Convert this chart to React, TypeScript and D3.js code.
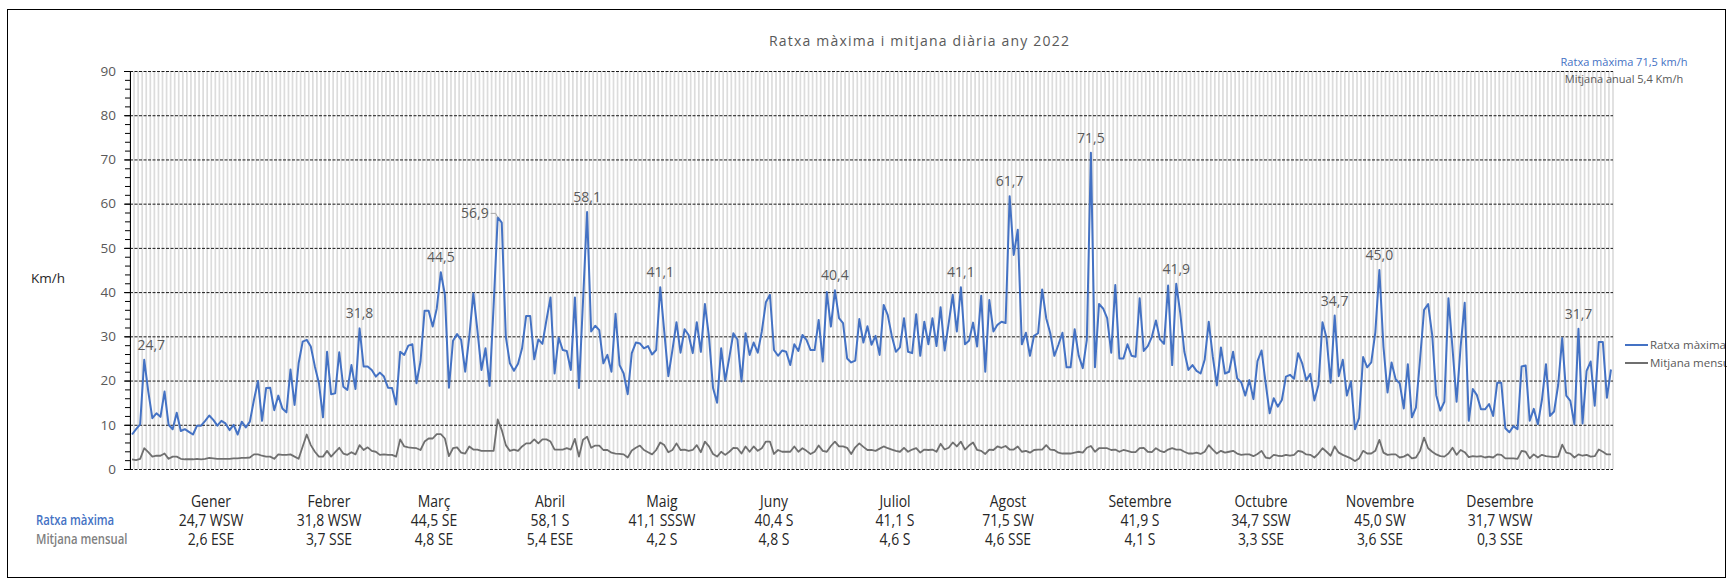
import React, { useEffect, useRef } from 'react'
import * as d3 from 'd3'

// ratxa màxima diària (km/h), un array per mes
const ratxaGener = [7.8, 9.0, 10.1, 24.7, 17.5, 11.5, 12.6, 11.8, 17.5, 10.0, 9.0, 12.7, 8.6, 9.0, 8.4, 7.8, 9.8, 9.8, 10.9, 12.1, 11.1, 9.8, 10.9, 10.3, 8.8, 10.0, 7.8, 10.7, 9.4, 10.7, 15.6]
const ratxaFebrer = [19.9, 10.9, 18.3, 18.4, 13.3, 16.6, 13.7, 12.8, 22.5, 14.5, 23.9, 28.8, 29.2, 27.7, 23.2, 19.4, 11.7, 26.5, 16.9, 17.1, 26.4, 18.6, 17.9, 23.5, 18.1, 31.8, 23.2, 23.2]
const ratxaMarc = [22.4, 20.9, 21.8, 20.9, 18.4, 18.3, 14.6, 26.5, 25.8, 27.9, 28.2, 19.4, 24.3, 35.8, 35.8, 32.2, 36.3, 44.5, 39.4, 18.4, 29.0, 30.5, 29.2, 22.0, 29.9, 39.7, 31.4, 22.4, 27.3, 18.8, 37.0]
const ratxaAbril = [56.9, 55.7, 29.9, 23.9, 22.2, 23.8, 27.3, 34.6, 34.6, 24.8, 29.3, 28.3, 33.7, 38.8, 21.6, 29.7, 26.9, 26.7, 22.4, 38.8, 18.3, 38.0, 58.1, 31.1, 32.4, 31.4, 23.9, 25.8, 22.0, 35.1]
const ratxaMaig = [23.5, 21.6, 16.9, 26.2, 28.6, 28.4, 27.3, 27.8, 25.9, 26.9, 41.1, 31.0, 21.0, 26.9, 33.2, 26.3, 31.6, 30.3, 26.2, 33.2, 26.5, 37.3, 29.9, 18.3, 15.0, 27.3, 20.0, 25.2, 30.7, 29.3, 19.8]
const ratxaJuny = [30.7, 25.8, 28.6, 26.3, 31.1, 37.7, 39.4, 26.9, 25.6, 26.8, 26.5, 23.5, 28.2, 26.7, 30.3, 29.2, 26.9, 26.9, 33.7, 24.3, 40.0, 32.2, 40.4, 34.1, 33.0, 25.0, 24.1, 24.5, 33.9, 28.6]
const ratxaJuliol = [32.3, 28.1, 30.1, 25.8, 37.1, 34.8, 30.1, 26.5, 27.5, 34.1, 26.5, 26.2, 35.0, 25.6, 33.3, 28.2, 34.1, 27.8, 36.6, 26.8, 33.0, 39.4, 31.1, 41.1, 28.2, 29.0, 33.1, 27.7, 39.2, 22.0, 38.2]
const ratxaAgost = [31.1, 32.6, 33.3, 33.0, 61.7, 48.4, 54.1, 28.2, 30.8, 25.6, 30.1, 30.7, 40.6, 34.1, 30.7, 25.6, 28.1, 30.8, 23.0, 23.0, 31.6, 25.6, 22.8, 29.2, 71.5, 23.0, 37.3, 36.3, 34.1, 26.3, 41.6]
const ratxaSetembre = [25.0, 25.0, 28.2, 25.6, 25.4, 38.6, 26.7, 27.8, 29.9, 33.6, 29.3, 28.3, 41.5, 23.5, 41.9, 35.2, 26.5, 22.4, 23.5, 22.2, 21.6, 24.7, 33.3, 25.4, 18.9, 27.5, 21.6, 22.0, 26.5, 20.5]
const ratxaOctubre = [19.6, 16.6, 20.1, 15.8, 24.4, 26.8, 19.5, 12.6, 16.0, 14.1, 15.6, 20.9, 21.3, 20.4, 26.2, 23.9, 20.1, 21.5, 15.5, 19.0, 33.2, 29.6, 19.5, 34.7, 21.0, 24.7, 16.6, 19.8, 9.0, 11.5, 25.3]
const ratxaNovembre = [23.0, 24.1, 30.9, 45.0, 27.7, 17.3, 24.1, 20.3, 19.4, 13.7, 23.7, 11.7, 13.9, 24.7, 36.0, 37.3, 30.3, 16.7, 13.2, 15.2, 38.6, 27.3, 15.2, 27.7, 37.6, 10.9, 18.1, 16.7, 13.5, 13.5]
const ratxaDesembre = [14.7, 12.0, 19.5, 19.5, 9.2, 8.3, 9.7, 9.0, 23.2, 23.4, 10.9, 13.6, 10.1, 15.6, 23.7, 12.0, 13.0, 19.0, 29.6, 16.6, 15.4, 10.1, 31.7, 10.3, 22.2, 24.3, 14.3, 28.7, 28.7, 16.1, 22.5]

// mitjana diària (km/h)
const mitjanaGener = [2.2, 2.0, 2.3, 4.7, 3.8, 2.8, 3.0, 3.0, 3.5, 2.3, 2.8, 2.8, 2.3, 2.2, 2.2, 2.2, 2.3, 2.2, 2.3, 2.5, 2.4, 2.3, 2.3, 2.3, 2.3, 2.4, 2.4, 2.5, 2.5, 2.6, 3.3]
const mitjanaFebrer = [3.3, 3.0, 2.8, 2.8, 2.3, 3.3, 3.2, 3.2, 3.3, 2.8, 2.3, 5.1, 7.8, 5.4, 3.9, 2.8, 2.8, 4.1, 2.8, 3.8, 4.8, 3.5, 3.2, 3.8, 3.3, 5.4, 4.3, 4.9]
const mitjanaMarc = [4.1, 3.9, 3.2, 3.3, 3.2, 3.2, 2.8, 6.7, 5.1, 4.9, 4.8, 4.7, 4.3, 6.2, 6.9, 6.9, 7.9, 7.9, 6.9, 2.9, 4.7, 4.9, 3.7, 3.5, 5.1, 4.4, 4.4, 4.1, 4.1, 4.1, 4.1]
const mitjanaAbril = [11.2, 8.8, 5.4, 4.1, 4.4, 4.1, 5.1, 5.8, 5.8, 6.7, 5.8, 6.7, 6.7, 6.2, 4.4, 4.4, 4.4, 4.7, 4.4, 6.8, 2.8, 6.6, 7.3, 4.8, 5.3, 5.3, 4.3, 4.3, 3.7, 3.5]
const mitjanaMaig = [3.4, 3.3, 2.6, 4.2, 4.8, 5.3, 4.3, 3.8, 3.3, 4.3, 6.0, 5.4, 3.8, 4.3, 5.8, 4.3, 4.4, 4.1, 4.3, 5.4, 3.8, 6.2, 5.1, 3.4, 2.8, 3.9, 3.2, 3.9, 4.8, 4.7, 3.5]
const mitjanaJuny = [5.1, 3.9, 5.1, 4.1, 4.7, 6.2, 6.2, 3.4, 4.3, 3.9, 3.9, 3.9, 5.1, 3.9, 4.7, 4.1, 3.4, 3.9, 5.3, 4.1, 3.9, 5.2, 6.2, 5.1, 5.1, 4.8, 3.4, 4.9, 5.8, 5.0]
const mitjanaJuliol = [4.3, 4.3, 4.1, 4.6, 5.1, 4.7, 4.4, 4.1, 3.9, 4.8, 3.9, 4.4, 4.7, 3.7, 4.4, 4.3, 4.4, 3.9, 5.7, 4.4, 4.8, 6.0, 5.1, 6.2, 4.4, 5.3, 6.0, 4.3, 4.1, 3.4, 4.4]
const mitjanaAgost = [4.3, 5.1, 4.8, 5.2, 4.4, 4.4, 5.1, 3.9, 4.1, 3.7, 4.3, 4.4, 4.4, 5.4, 4.4, 4.3, 3.7, 3.5, 3.5, 3.5, 3.7, 3.9, 3.7, 4.8, 5.2, 3.9, 4.7, 4.7, 4.7, 4.3, 4.4]
const mitjanaSetembre = [3.9, 4.3, 4.1, 3.8, 3.8, 4.7, 4.8, 3.9, 3.8, 4.7, 4.1, 3.8, 4.4, 4.7, 4.4, 4.4, 3.9, 3.5, 3.5, 3.7, 3.4, 3.9, 5.4, 4.4, 3.5, 4.1, 3.7, 3.9, 4.1, 3.5]
const mitjanaOctubre = [3.2, 3.3, 3.3, 2.9, 3.4, 4.1, 2.6, 2.4, 3.2, 3.0, 2.9, 3.2, 3.0, 3.2, 4.1, 3.9, 3.3, 3.2, 2.6, 3.5, 4.7, 3.9, 3.0, 5.1, 3.7, 3.2, 2.8, 2.4, 1.8, 2.4, 4.1]
const mitjanaNovembre = [3.5, 3.5, 4.1, 6.6, 3.7, 3.2, 3.3, 3.3, 2.6, 2.8, 3.3, 2.4, 2.6, 4.1, 7.1, 4.7, 3.9, 3.3, 2.9, 2.8, 3.5, 4.8, 3.2, 4.3, 3.8, 2.7, 2.9, 2.8, 2.9, 2.6]
const mitjanaDesembre = [2.8, 2.6, 3.3, 3.2, 2.4, 2.4, 2.4, 2.3, 4.1, 3.9, 2.4, 3.3, 2.6, 3.2, 2.9, 2.8, 2.7, 2.8, 5.5, 3.7, 3.5, 2.6, 3.3, 3.0, 3.2, 2.8, 2.9, 4.4, 3.9, 3.3, 3.3]

const ratxa = [ratxaGener, ratxaFebrer, ratxaMarc, ratxaAbril, ratxaMaig, ratxaJuny, ratxaJuliol, ratxaAgost, ratxaSetembre, ratxaOctubre, ratxaNovembre, ratxaDesembre].flat()
const mitjana = [mitjanaGener, mitjanaFebrer, mitjanaMarc, mitjanaAbril, mitjanaMaig, mitjanaJuny, mitjanaJuliol, mitjanaAgost, mitjanaSetembre, mitjanaOctubre, mitjanaNovembre, mitjanaDesembre].flat()

// dies amb etiqueta de valor
const diesEtiqueta = [3, 56, 76, 90, 112, 130, 173, 204, 216, 236, 257, 296, 307, 356]

const mesos = ['Gener', 'Febrer', 'Març', 'Abril', 'Maig', 'Juny', 'Juliol', 'Agost', 'Setembre', 'Octubre', 'Novembre', 'Desembre']
const ratxaMes = ['24,7 WSW', '31,8 WSW', '44,5 SE', '58,1 S', '41,1 SSSW', '40,4 S', '41,1 S', '71,5 SW', '41,9 S', '34,7 SSW', '45,0 SW', '31,7 WSW']
const mitjanaMes = ['2,6 ESE', '3,7 SSE', '4,8 SE', '5,4 ESE', '4,2 S', '4,8 S', '4,6 S', '4,6 SSE', '4,1 S', '3,3 SSE', '3,6 SSE', '0,3 SSE']

const yTicks = [0, 10, 20, 30, 40, 50, 60, 70, 80, 90]

// layout
const W = 1727
const H = 581
const plot = { left: 130, right: 1613, top: 71, bottom: 469 }
const colX = [211, 329, 434, 550, 662, 774, 895, 1008, 1140, 1261, 1380, 1500]

const BLUE = '#4472C4'
const GREY = '#6f6f6f'
const TXT = '#595959'
const FONT = "'Open Sans', 'DejaVu Sans', sans-serif"

const App = () => {
	const ref = useRef<SVGSVGElement>(null)

	useEffect(() => {
		const svg = d3.select(ref.current)
		svg.selectAll('*').remove()

		const x = d3.scalePoint<number>().domain(d3.range(ratxa.length)).range([plot.left, plot.right]).padding(0.5)
		const y = d3.scaleLinear().domain([0, 90]).range([plot.bottom, plot.top])
		const step = x.step()

		svg.append('rect').attr('width', W).attr('height', H).attr('fill', '#fff')

		// vertical day stripes
		svg.append('g')
			.selectAll('line')
			.data(d3.range(ratxa.length + 1))
			.enter()
			.append('line')
			.attr('x1', d => plot.left + d * step)
			.attr('x2', d => plot.left + d * step)
			.attr('y1', plot.top)
			.attr('y2', plot.bottom)
			.attr('stroke', '#dcdcdc')
			.attr('stroke-width', 1.7)

		// horizontal dashed gridlines
		svg.append('g')
			.selectAll('line')
			.data(yTicks)
			.enter()
			.append('line')
			.attr('x1', plot.left)
			.attr('x2', plot.right)
			.attr('y1', d => y(d) + 0.5)
			.attr('y2', d => y(d) + 0.5)
			.attr('stroke', '#1a1a1a')
			.attr('stroke-width', 1)
			.attr('stroke-dasharray', '3 1.5')

		// y axis: minor + major ticks
		const minor = svg.append('g')
			.attr('transform', `translate(${plot.left},0)`)
			.call(d3.axisLeft(y).tickValues(d3.range(0, 91, 2)).tickSize(5).tickFormat(() => ''))
		minor.select('.domain').remove()
		const axis = svg.append('g')
			.attr('transform', `translate(${plot.left},0)`)
			.call(d3.axisLeft(y).tickValues(yTicks).tickSize(6).tickSizeOuter(0).tickPadding(8).tickFormat(d3.format('d')))
		svg.selectAll('.tick line').attr('stroke', '#000')
		axis.select('.domain').attr('stroke', '#000')
		axis.selectAll('text')
			.attr('font-family', FONT)
			.attr('font-size', 13.5)
			.attr('fill', TXT)

		// lines
		const line = d3.line<number>().x((d, i) => x(i) as number).y(d => y(d))
		svg.append('path')
			.datum(mitjana)
			.attr('d', line)
			.attr('fill', 'none')
			.attr('stroke', GREY)
			.attr('stroke-width', 1.8)
			.attr('stroke-linejoin', 'round')
		svg.append('path')
			.datum(ratxa)
			.attr('d', line)
			.attr('fill', 'none')
			.attr('stroke', BLUE)
			.attr('stroke-width', 2)
			.attr('stroke-linejoin', 'round')

		// data labels
		const fmt = (v: number) => v.toFixed(1).replace('.', ',')
		diesEtiqueta.forEach(d => {
			const px = x(d) as number
			const py = y(ratxa[d])
			if (d === 90) {
				svg.append('text')
					.attr('x', px - 9)
					.attr('y', py + 1)
					.attr('text-anchor', 'end')
					.attr('font-family', FONT).attr('font-size', 14).attr('fill', TXT)
					.text(fmt(ratxa[d]))
				svg.append('path')
					.attr('d', `M${px - 7},${py - 4}H${px - 2}L${px},${py}`)
					.attr('fill', 'none').attr('stroke', '#a6a6a6').attr('stroke-width', 1)
				return
			}
			svg.append('text')
				.attr('x', d === 3 ? px + 7 : px)
				.attr('y', py - 10)
				.attr('text-anchor', 'middle')
				.attr('font-family', FONT).attr('font-size', 14).attr('fill', TXT)
				.text(fmt(ratxa[d]))
		})

		// title and summaries
		svg.append('text')
			.attr('x', 919).attr('y', 46)
			.attr('text-anchor', 'middle')
			.attr('font-family', FONT).attr('font-size', 14).attr('fill', TXT)
			.attr('textLength', 300).attr('lengthAdjust', 'spacing')
			.text('Ratxa màxima i mitjana diària any 2022')
		svg.append('text')
			.attr('x', 1624).attr('y', 66)
			.attr('text-anchor', 'middle')
			.attr('font-family', FONT).attr('font-size', 11).attr('fill', BLUE)
			.text('Ratxa màxima ' + fmt(d3.max(ratxa) as number) + ' km/h')
		svg.append('text')
			.attr('x', 1624).attr('y', 83)
			.attr('text-anchor', 'middle')
			.attr('font-family', FONT).attr('font-size', 11).attr('fill', TXT)
			.text('Mitjana anual 5,4 Km/h')

		svg.append('text')
			.attr('x', 31).attr('y', 283)
			.attr('font-family', FONT).attr('font-size', 13.5).attr('fill', '#262626')
			.text('Km/h')

		// legend
		const legend = [{ name: 'Ratxa màxima', color: BLUE }, { name: 'Mitjana mensual', color: GREY }]
		legend.forEach((l, i) => {
			const ly = 345 + i * 18
			svg.append('line')
				.attr('x1', 1625).attr('x2', 1648).attr('y1', ly).attr('y2', ly)
				.attr('stroke', l.color).attr('stroke-width', 2)
			svg.append('text')
				.attr('x', 1650).attr('y', ly + 4)
				.attr('font-family', FONT).attr('font-size', 11.5).attr('fill', TXT)
				.text(l.name)
		})

		// monthly table (condensed look)
		const cond = (sel: any, tx: number, ty: number, k: number) => sel.attr('transform', `translate(${tx},${ty}) scale(${k},1)`)
		mesos.forEach((m, i) => {
			const rows = [m, ratxaMes[i], mitjanaMes[i]]
			rows.forEach((r, j) => {
				const t = svg.append('text')
					.attr('text-anchor', 'middle')
					.attr('font-family', FONT).attr('font-size', 15.5).attr('fill', '#262626')
					.text(r)
				cond(t, colX[i], 507 + j * 19, 0.9)
			})
		})
		const side = [{ t: 'Ratxa màxima', c: BLUE }, { t: 'Mitjana mensual', c: '#7f7f7f' }]
		side.forEach((s, j) => {
			const t = svg.append('text')
				.attr('font-family', FONT).attr('font-size', 13.5).attr('font-weight', 600).attr('fill', s.c)
				.text(s.t)
			cond(t, 36, 525 + j * 19, 0.84)
		})

		// outer border
		svg.append('rect')
			.attr('x', 7.5).attr('y', 9.5).attr('width', 1718).attr('height', 568)
			.attr('fill', 'none').attr('stroke', '#000').attr('stroke-width', 1)
	}, [])

	return (
		<svg
			ref={ref}
			width={W}
			height={H}
			style={{ position: 'absolute', left: 0, top: 0, display: 'block' }}
		></svg>
	)
}

export default App
